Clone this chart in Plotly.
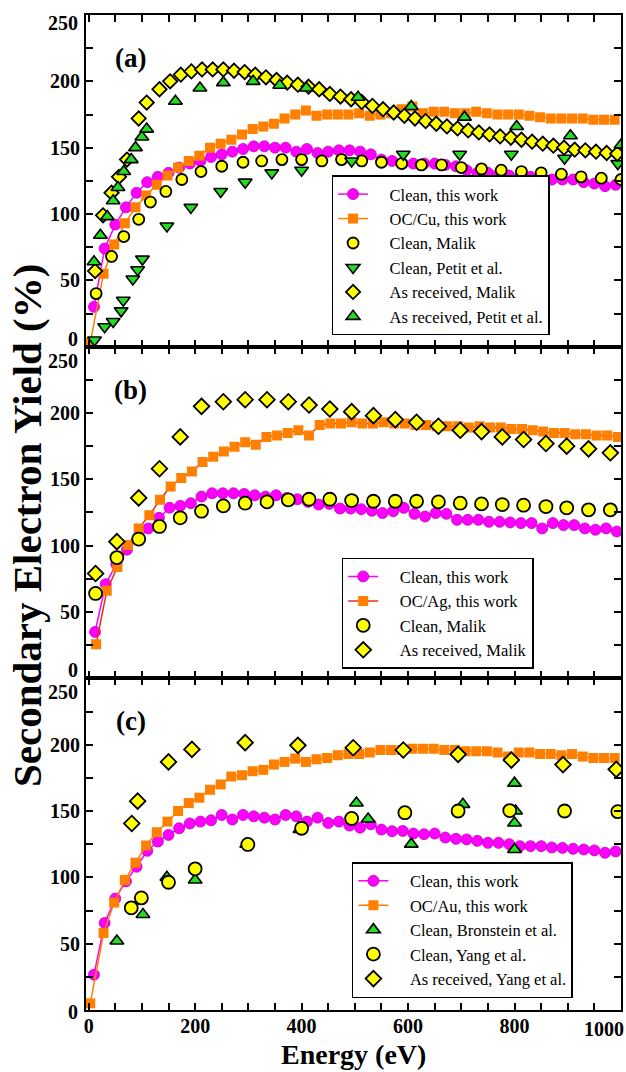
import plotly.graph_objects as go

SERIF = "Liberation Serif, Times New Roman, serif"
MAG = "#FF00FF"
ORG = "#FF7F00"
YEL = "#FFFF00"
GRN = "#22DD22"

# ---------------- Panel (a): Cu ----------------
a_clean_x = [10, 30, 50, 70, 90, 110, 130, 150, 170, 190, 210, 230, 250, 270, 290, 310, 330, 350, 370, 390,
             410, 430, 450, 470, 490, 510, 530, 550, 570, 590, 610, 630, 650, 670, 690, 710, 730, 750, 770, 790,
             810, 830, 850, 870, 890, 910, 930, 950, 970, 990]
a_clean_y = [30, 74, 92, 105, 116, 124, 128, 131, 135, 138, 140, 143, 145, 147, 149, 151, 151, 150, 150, 147,
             149, 146, 147, 148, 148, 147, 145, 141, 140, 138, 138, 138, 138, 137, 136, 133, 131, 131, 130, 129,
             128, 128, 127, 126, 126, 126, 124, 123, 121, 122]
a_oc_x = [3, 28, 48, 68, 88, 108, 128, 148, 168, 188, 208, 228, 248, 268, 288, 308, 328, 348, 368, 388,
          408, 428, 448, 468, 488, 508, 528, 548, 568, 588, 608, 628, 648, 668, 688, 708, 728, 748, 768, 788,
          808, 828, 848, 868, 888, 908, 928, 948, 968, 988]
a_oc_y = [3, 55, 77, 93, 105, 114, 122, 129, 135, 140, 144, 150, 153, 156, 160, 164, 166, 168, 172, 175,
          178, 174, 175, 175, 175, 176, 174, 175, 176, 179, 181, 176, 177, 177, 176, 176, 177, 176, 175, 175,
          175, 174, 173, 172, 172, 172, 172, 171, 171, 171]
a_malik_clean_x = [14, 43, 66, 94, 116, 145, 175, 211, 250, 290, 325, 363, 400, 438, 475, 513, 550, 588, 625,
                   663, 700, 738, 775, 813, 850, 888, 925, 963, 1000]
a_malik_clean_y = [40, 68, 83, 96, 109, 117, 126, 132, 136, 139, 140, 141, 141, 140, 141, 140, 139, 138, 137,
                   137, 135, 134, 133, 132, 131, 130, 128, 127, 126]
a_petit_clean_x = [11, 30, 46, 61, 65, 83, 92, 101, 147, 192, 248, 294, 344, 400, 494, 591, 697, 794, 894, 994]
a_petit_clean_y = [5, 15, 19, 27, 35, 51, 58, 66, 91, 105, 117, 124, 131, 133, 140, 145, 145, 145, 142, 138]
a_malik_ar_x = [12, 27, 43, 57, 72, 94, 109, 133, 153, 173, 193, 213, 233, 253, 273, 293, 313, 333, 353, 373,
                393, 413, 433, 453, 473, 493, 513, 533, 553, 573, 593, 613, 633, 653, 673, 693, 713, 733, 753,
                773, 793, 813, 833, 853, 873, 893, 913, 933, 953, 973, 993]
a_malik_ar_y = [57, 99, 116, 128, 141, 172, 184, 194, 200, 205, 207.5, 209, 209, 209, 208, 207, 205, 203, 201, 199,
                197.5, 196, 194, 190.5, 188.5, 186.5, 184.5, 181.5, 179, 176.5, 174, 172, 170, 168, 166, 164.5,
                163, 161.5, 160, 158.5, 157.5, 156, 154.5, 153, 151.5, 150, 148.5, 148, 147, 146, 145.5]
a_petit_ar_x = [10, 22, 35, 46, 55, 66, 80, 88, 100, 109, 163, 209, 253, 309, 359, 409, 506, 606, 706, 804, 905, 1000]
a_petit_ar_y = [64, 84, 98, 110, 120, 132, 141, 150, 158, 164, 185, 195, 199, 200, 197, 195, 188, 181, 173, 166, 159, 152]

# ---------------- Panel (b): Ag ----------------
b_clean_x = [12, 32, 52, 72, 92, 112, 132, 152, 172, 192, 212, 232, 252, 272, 292, 312, 332, 352, 372, 392,
             412, 432, 452, 472, 492, 512, 532, 552, 572, 592, 612, 632, 652, 672, 692, 712, 732, 752, 772, 792,
             812, 832, 852, 872, 892, 912, 932, 952, 972, 992]
b_clean_y = [35, 71, 86, 97, 105, 113, 121, 128.6, 130, 132, 137, 139.5, 139.5, 139.5, 139, 138, 137, 138, 136, 135,
             133, 131, 131.5, 128, 128, 127.5, 126.3, 124.6, 126, 128.5, 124, 122, 124.6, 124, 119.5, 119.5, 119.5,
             118, 118, 117.5, 117, 117, 113, 117, 115.5, 115.5, 113, 112, 113, 110.7]
b_oc_x = [14, 34, 54, 74, 94, 114, 134, 154, 174, 194, 214, 234, 254, 274, 294, 314, 334, 354, 374, 394,
          414, 434, 454, 474, 494, 514, 534, 554, 574, 594, 614, 634, 654, 674, 694, 714, 734, 754, 774, 794,
          814, 834, 854, 874, 894, 914, 934, 954, 974, 994]
b_oc_y = [25.6, 66, 84, 100.5, 113, 123, 134.6, 144.6, 151, 156, 163, 167, 171, 174.6, 178, 176, 182, 183, 185, 187,
          183, 191, 192, 192, 193, 192, 192, 193, 192, 192, 191, 191, 190, 190, 190, 189, 190, 189, 189, 188,
          188, 187, 186, 185, 185, 184, 184, 183, 183, 182]
b_malik_x = [13, 53, 94, 133, 172, 212, 253, 294, 335, 375, 414, 453, 494, 535, 576, 616, 657, 698, 738, 777,
             817, 859, 898, 939, 980]
b_malik_clean_y = [64, 91, 105, 114.5, 121, 126, 130, 132, 133, 134.5, 135, 135, 134, 133.5, 133.5, 133.5, 133,
                   132, 131.5, 131, 130.5, 129.5, 128.5, 127, 127]
b_malik_ar_y = [79, 103, 136, 158, 182, 205, 208.5, 210, 210, 208.5, 206, 203, 201, 198, 195, 193, 190, 187, 186,
                182, 180, 177, 175, 173, 170]

# ---------------- Panel (c): Au ----------------
c_clean_x = a_clean_x
c_clean_y = [26.6, 65.6, 84, 97, 108, 120, 127, 132, 137, 140.6, 142, 143, 147, 143.6, 147, 146, 145, 143.6, 147, 146,
             142, 145, 141, 142, 139, 137.4, 140, 136, 134.8, 135, 133, 132.5, 133, 130, 129, 128.6, 127.5, 126,
             126, 125, 123.5, 123.5, 123.5, 122.5, 122.2, 121.5, 121, 120.3, 118.5, 119.5]
c_oc_x = a_oc_x
c_oc_y = [5, 58, 81, 98, 111, 124, 134, 142, 150, 156, 160, 166, 170, 176, 177, 180, 181, 185, 187, 189.5,
          187, 189, 190, 192, 193, 193, 194, 196, 196, 196, 197, 197, 197, 196, 196, 195, 195, 195, 194, 191,
          194, 194, 193, 193, 192, 193, 191, 190, 190, 190]
c_bron_x = [53, 102, 147, 200, 297, 397, 503, 525, 606, 703, 800, 800, 800, 802]
c_bron_y = [52, 72, 100, 98, 125, 136, 156, 144, 125, 155, 171, 141, 121, 150]
c_yang_clean_x = [80, 99, 150, 200, 299, 400, 494, 594, 694, 791, 894, 994]
c_yang_clean_y = [77, 84.5, 96.3, 106.4, 124.8, 137, 144.4, 148.7, 150, 150.3, 150, 149.5]
c_yang_ar_x = [81, 92, 150, 194, 294, 393, 497, 591, 694, 794, 891, 991]
c_yang_ar_y = [140.6, 157.4, 187, 196.4, 201.5, 199.5, 197.7, 196, 192.7, 188.4, 185, 181.4]

# ---------------- ticks ----------------
x_tick_vals = [0, 50, 100, 150, 200, 250, 300, 350, 400, 450, 500, 550, 600, 650, 700, 750, 800, 850, 900, 950, 1000]
x_tick_text = ["0", "", "", "", "200", "", "", "", "400", "", "", "", "600", "", "", "", "800", "", "", "", ""]
y_tick_vals = [0, 25, 50, 75, 100, 125, 150, 175, 200, 225, 250]
y_tick_text = ["", "", "50", "", "100", "", "150", "", "200", "", ""]
panel_labels = ["(a)", "(b)", "(c)"]

PAD = "\u00a0\u00a0\u00a0\u00a0"

fig = go.Figure()


def add(x, y, name, p, kind):
    xa = "x" if p == 1 else f"x{p}"
    ya = "y" if p == 1 else f"y{p}"
    lg = "legend" if p == 1 else f"legend{p}"
    common = dict(x=x, y=y, name=PAD + name, xaxis=xa, yaxis=ya, legend=lg, cliponaxis=True)
    if kind == "mag":
        tr = go.Scatter(mode="lines+markers", line=dict(color=MAG, width=1.5),
                        marker=dict(symbol="circle", size=11, color=MAG, line=dict(color="#C000C0", width=0.8)),
                        **common)
    elif kind == "org":
        lc = "#E8301C" if p == 2 else ORG
        tr = go.Scatter(mode="lines+markers", line=dict(color=lc, width=1.5),
                        marker=dict(symbol="square", size=10, color=ORG, line=dict(width=0)), **common)
    elif kind == "ycirc":
        tr = go.Scatter(mode="markers", marker=dict(symbol="circle", size=13 if p > 1 else 11, color=YEL,
                                                    line=dict(color="black", width=1.8)), **common)
    elif kind == "ydia":
        tr = go.Scatter(mode="markers", marker=dict(symbol="diamond", size=12 if p > 1 else 11, color=YEL,
                                                    line=dict(color="black", width=1.8)), **common)
    elif kind == "gdown":
        tr = go.Scatter(mode="markers", marker=dict(symbol="triangle-down", size=12, color=GRN,
                                                    line=dict(color="black", width=1.6)), **common)
    else:
        tr = go.Scatter(mode="markers", marker=dict(symbol="triangle-up", size=12, color=GRN,
                                                    line=dict(color="black", width=1.6)), **common)
    fig.add_trace(tr)


add(a_clean_x, a_clean_y, "Clean, this work", 1, "mag")
add(a_oc_x, a_oc_y, "OC/Cu, this work", 1, "org")
add(a_malik_clean_x, a_malik_clean_y, "Clean, Malik", 1, "ycirc")
add(a_petit_clean_x, a_petit_clean_y, "Clean, Petit et al.", 1, "gdown")
add(a_malik_ar_x, a_malik_ar_y, "As received, Malik", 1, "ydia")
add(a_petit_ar_x, a_petit_ar_y, "As received, Petit et al.", 1, "gup")

add(b_clean_x, b_clean_y, "Clean, this work", 2, "mag")
add(b_oc_x, b_oc_y, "OC/Ag, this work", 2, "org")
add(b_malik_x, b_malik_clean_y, "Clean, Malik", 2, "ycirc")
add(b_malik_x, b_malik_ar_y, "As received, Malik", 2, "ydia")

add(c_clean_x, c_clean_y, "Clean, this work", 3, "mag")
add(c_oc_x, c_oc_y, "OC/Au, this work", 3, "org")
add(c_bron_x, c_bron_y, "Clean, Bronstein et al.", 3, "gup")
add(c_yang_clean_x, c_yang_clean_y, "Clean, Yang et al.", 3, "ycirc")
add(c_yang_ar_x, c_yang_ar_y, "As received, Yang et al.", 3, "ydia")

tickfont = dict(family=SERIF, size=20, color="black", weight="bold")
axis_common = dict(ticks="inside", ticklen=7, tickwidth=2, tickcolor="black", showline=True, linewidth=2,
                   linecolor="black", mirror="ticks", showgrid=False, zeroline=False, tickfont=tickfont,
                   automargin=False)

domains = {1: [2 / 3, 1.0], 2: [1 / 3, 2 / 3], 3: [0.0, 1 / 3]}
layout = dict(width=626, height=1072, margin=dict(l=86, r=5, t=15, b=62), paper_bgcolor="white",
              plot_bgcolor="white", showlegend=True)
for p in (1, 2, 3):
    xk = "xaxis" if p == 1 else f"xaxis{p}"
    yk = "yaxis" if p == 1 else f"yaxis{p}"
    ya = "y" if p == 1 else f"y{p}"
    xa = "x" if p == 1 else f"x{p}"
    layout[xk] = dict(domain=[0, 1], anchor=ya, range=[-5, 1000], tickmode="array", tickvals=x_tick_vals,
                      ticktext=x_tick_text, showticklabels=(p == 3), ticklabelstandoff=-3, **axis_common)
    if p != 3:
        layout[xk]["matches"] = "x3"
    layout[yk] = dict(domain=domains[p], anchor=xa, range=[0, 250], tickmode="array", tickvals=y_tick_vals,
                      ticktext=y_tick_text, **axis_common)

leg_common = dict(xref="paper", yref="paper", xanchor="left", yanchor="bottom", bgcolor="white",
                  bordercolor="black", borderwidth=1.5, font=dict(family=SERIF, size=16.5, color="black"),
                  traceorder="normal", itemwidth=30, tracegroupgap=0)
layout["legend"] = dict(x=0.459, y=0.678, **leg_common)
layout["legend2"] = dict(x=0.478, y=0.343, **leg_common)
layout["legend3"] = dict(x=0.497, y=0.012, **leg_common)
fig.update_layout(**layout)

ann = []
# panel labels
for p, lab in zip((1, 2, 3), panel_labels):
    ya = "y" if p == 1 else f"y{p}"
    ann.append(dict(text=lab, xref="paper", x=0.084, yref=f"{ya} domain", y=0.87, xanchor="center",
                    yanchor="middle", showarrow=False, font=dict(family=SERIF, size=27, color="black", weight="bold")))
# end tick labels of the y axes (nudged inward as in the original)
end_labels = [(1, 250, "250", -8), (1, 0, "0", 7.5), (2, 250, "250", -14), (2, 0, "0", 8.5),
              (3, 250, "250", -13.5), (3, 0, "0", -1.5)]
for p, val, txt, ys in end_labels:
    ya = "y" if p == 1 else f"y{p}"
    ann.append(dict(text=txt, xref="paper", x=0, xanchor="right", xshift=-6, yref=ya, y=val, yanchor="middle",
                    yshift=ys, showarrow=False, font=tickfont))
# last x tick label kept inside the page
ann.append(dict(text="1000", xref="paper", x=1, xanchor="right", xshift=5, yref="paper", y=0, yanchor="top",
                yshift=-6, showarrow=False, font=tickfont))
# axis titles
ann.append(dict(text="Energy (eV)", xref="paper", x=0.5, yref="paper", y=-0.0452, xanchor="center",
                yanchor="middle", showarrow=False, font=dict(family=SERIF, size=28, color="black", weight="bold")))
ann.append(dict(text="Secondary Electron Yield (%)", xref="paper", x=0, xshift=-59, yref="paper", y=0.4864,
                xanchor="center", yanchor="middle", textangle=-90, showarrow=False,
                font=dict(family=SERIF, size=41, color="black", weight="bold")))
fig.update_layout(annotations=ann)

fig.write_html("out.html", config={"displayModeBar": False},
               post_script="document.body.style.margin='0';document.body.style.overflow='hidden';")
